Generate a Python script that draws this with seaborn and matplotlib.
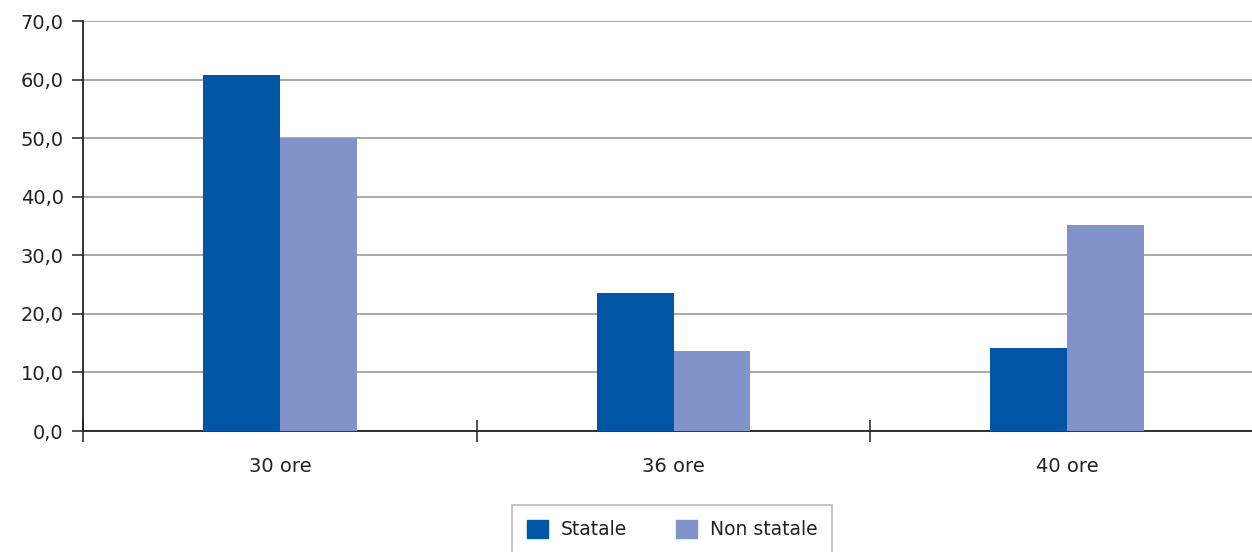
import matplotlib
matplotlib.use('Agg')
import matplotlib.pyplot as plt
import seaborn as sns
import pandas as pd
from matplotlib.ticker import FuncFormatter, FixedLocator

categories = ['30 ore', '36 ore', '40 ore']
statale = [60.9, 23.6, 14.2]
non_statale = [50.0, 13.7, 35.2]
series_names = ['Statale', 'Non statale']
colors = ['#0055A4', '#8193C8']

df = pd.DataFrame({
    'Orario': categories * 2,
    'Valore': statale + non_statale,
    'Tipo': [series_names[0]] * 3 + [series_names[1]] * 3,
})

sns.set_style('white')
plt.rcParams['font.family'] = ['DejaVu Sans']

fig = plt.figure(figsize=(12.52, 5.52), dpi=100)
# axes runs a little past the right edge, as in the reference
ax = fig.add_axes([0.0663, 0.2192, 0.9433, 0.742])

sns.barplot(data=df, x='Orario', y='Valore', hue='Tipo', palette=colors,
            width=0.39, gap=0, saturation=1, linewidth=0, edgecolor='none',
            ax=ax, legend=False, zorder=3)

ax.set_ylim(0, 70)
ax.set_xlim(-0.5, 2.5)
ax.set_yticks(range(0, 71, 10))
ax.yaxis.set_major_formatter(FuncFormatter(lambda v, p: f'{v:.1f}'.replace('.', ',')))
ax.yaxis.grid(True, color='#9a9a9a', linewidth=1.2, zorder=0)
ax.set_axisbelow(True)

# category labels between boundary ticks
ax.set_xticks([0, 1, 2])
ax.set_xticklabels(categories)
ax.tick_params(axis='x', which='major', bottom=True, length=0, pad=19, labelsize=14, labelcolor='#222222')
ax.xaxis.set_minor_locator(FixedLocator([-0.5, 0.5, 1.5]))
ax.tick_params(axis='x', which='minor', bottom=True, length=16, direction='inout', width=1.2, color='#333333')
ax.tick_params(axis='y', left=True, length=8, width=1.2, direction='out', color='#333333',
               labelsize=14, labelcolor='#222222', pad=6)

for s in ['top', 'right']:
    ax.spines[s].set_visible(False)
for s in ['left', 'bottom']:
    ax.spines[s].set_color('#222222')
    ax.spines[s].set_linewidth(1.3)

ax.set_xlabel('')
ax.set_ylabel('')

handles = [plt.Rectangle((0, 0), 1, 1, color=c) for c in colors]
leg = fig.legend(handles, series_names, loc='upper center', bbox_to_anchor=(0.537, 0.103),
                 ncol=2, frameon=True, fancybox=False, fontsize=13.5, handlelength=1.1,
                 handleheight=1.1, columnspacing=2.6, borderpad=0.8, handletextpad=0.7)
leg.get_frame().set_edgecolor('#aaaaaa')
leg.get_frame().set_linewidth(1.2)
for t in leg.get_texts():
    t.set_color('#222222')

fig.savefig('out.png', dpi=100)
